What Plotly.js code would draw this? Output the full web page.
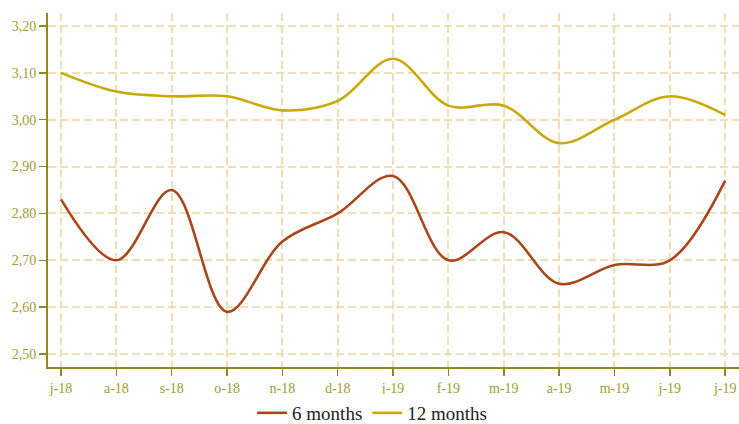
<!DOCTYPE html>
<html>
<head>
<meta charset="utf-8">
<script src="https://cdn.plot.ly/plotly-3.0.1.min.js"></script>
<style>html,body{margin:0;padding:0;background:#fff;}#chart{width:739px;height:424px;}</style>
</head>
<body>
<div id="chart"></div>
<script>
var categories = ["j-18","a-18","s-18","o-18","n-18","d-18","j-19","f-19","m-19","a-19","m-19 ","j-19 ","j-19  "];
var tickLabels = ["j-18","a-18","s-18","o-18","n-18","d-18","j-19","f-19","m-19","a-19","m-19","j-19","j-19"];
var sixMonths = [2.83, 2.70, 2.85, 2.59, 2.74, 2.80, 2.88, 2.70, 2.76, 2.65, 2.69, 2.70, 2.87];
var twelveMonths = [3.10, 3.06, 3.05, 3.05, 3.02, 3.04, 3.13, 3.03, 3.03, 2.95, 3.00, 3.05, 3.01];
var yTicks = [2.5, 2.6, 2.7, 2.8, 2.9, 3.0, 3.1, 3.2];

var idx = categories.map(function(_, i){ return i; });

var traces = [
  {x: idx, y: sixMonths, name: "6 months", type: "scatter", mode: "lines",
   line: {color: "#a8461c", width: 2.6, shape: "spline", smoothing: 1}},
  {x: idx, y: twelveMonths, name: "12 months", type: "scatter", mode: "lines",
   line: {color: "#c9a80a", width: 2.6, shape: "spline", smoothing: 1}}
];

var axisColor = "#8a8a1e";
var gridColor = "#eedfb8";
var tickFont = {family: "Liberation Serif, serif", size: 14, color: "#a09c30"};
var layout = {
  width: 739, height: 424,
  margin: {l: 48, r: 0, t: 13, b: 57, autoexpand: false},
  paper_bgcolor: "#fff", plot_bgcolor: "#fff",
  separators: ",.",
  showlegend: true,
  legend: {orientation: "h", x: 0.469, xanchor: "center", yref: "container", y: 0.026, yanchor: "middle",
           font: {family: "Liberation Serif, serif", size: 19, color: "#222"}, itemwidth: 30},
  xaxis: {
    range: [-0.235, 12.25], tickmode: "array", tickvals: idx, ticktext: tickLabels,
    showline: true, linecolor: axisColor, linewidth: 2, ticks: "outside", ticklen: 7,
    tickcolor: axisColor, tickwidth: 1.5,
    showgrid: true, gridcolor: gridColor, gridwidth: 2, griddash: "8px,4px",
    zeroline: false, tickfont: tickFont
  },
  yaxis: {
    range: [2.4723, 3.2277], tickmode: "array", tickvals: yTicks, tickformat: ".2f",
    showline: true, linecolor: axisColor, linewidth: 2, ticks: "outside", ticklen: 7,
    tickcolor: axisColor, tickwidth: 1.5,
    showgrid: true, gridcolor: gridColor, gridwidth: 2, griddash: "8px,4px",
    zeroline: false, tickfont: tickFont
  }
};

Plotly.newPlot("chart", traces, layout, {displayModeBar: false, staticPlot: true});
</script>
</body>
</html>
